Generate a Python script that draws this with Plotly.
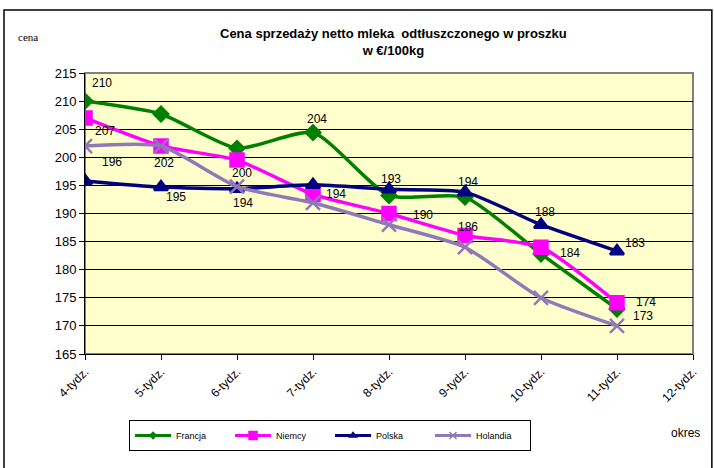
import plotly.graph_objects as go

categories = ["4-tydz.", "5-tydz.", "6-tydz.", "7-tydz.", "8-tydz.", "9-tydz.", "10-tydz.", "11-tydz.", "12-tydz."]

francja = [210, 207.7, 201.6, 204.4, 193.2, 192.9, 182.8, 173.0]
niemcy = [207, 202, 199.5, 193.4, 190, 186.1, 184, 174.1]
polska = [195.8, 194.7, 194.4, 195.1, 194.3, 193.8, 188, 183.3]
holandia = [202, 202, 194.8, 191.9, 188, 184, 175, 170]

series_names = ["Francja", "Niemcy", "Polska", "Holandia"]
series_values = [francja, niemcy, polska, holandia]
series_colors = ["#008000", "#FF00FF", "#000080", "#9178B8"]
series_symbols = ["diamond", "square", "triangle-up", "x-thin"]
series_sizes = [11, 13, 12, 14]
legend_sizes = [5, 8, 6, 7]

# data labels: (series index, point index, text, xshift, yshift)
labels = [
    (0, 0, "210", 17, 18),
    (1, 0, "207", 20, -13),
    (2, 0, "196", 27, 19),
    (3, 1, "202", 3, -17),
    (2, 1, "195", 15, -10),
    (1, 2, "200", 5, -13),
    (2, 2, "194", 6, -14),
    (0, 3, "204", 4, 14),
    (1, 3, "194", 23, 0),
    (0, 4, "193", 2, 17),
    (1, 4, "190", 34, -1),
    (2, 5, "194", 3, 10),
    (1, 5, "186", 3, 8),
    (2, 6, "188", 4, 13),
    (1, 6, "184", 29, -6),
    (2, 7, "183", 18, 8),
    (1, 7, "174", 29, 1),
    (0, 7, "173", 26, -7),
]

fig = go.Figure()
for name, vals, col, sym, sz in zip(series_names, series_values, series_colors, series_symbols, series_sizes):
    fig.add_trace(go.Scatter(
        x=categories[:len(vals)], y=vals, name=name, mode="lines+markers", showlegend=False,
        line=dict(color=col, width=3.5, shape="spline", smoothing=0.6),
        marker=dict(symbol=sym, size=sz, color=col, line=dict(color=col, width=2.5)),
    ))
# legend entries with small symbols, as in the original
for name, col, sym, lsz in zip(series_names, series_colors, series_symbols, legend_sizes):
    fig.add_trace(go.Scatter(
        x=[None], y=[None], name=name, mode="lines+markers", showlegend=True,
        line=dict(color=col, width=3),
        marker=dict(symbol=sym, size=lsz, color=col, line=dict(color=col, width=1.5)),
    ))

for si, pi, txt, xs, ys in labels:
    fig.add_annotation(
        x=categories[pi], y=series_values[si][pi], text=txt, showarrow=False,
        xshift=xs, yshift=ys, font=dict(family="Liberation Sans, Arial", size=12, color="#000000"),
    )

fig.add_annotation(
    text="<b>Cena sprzedaży netto mleka  odtłuszczonego w proszku<br>w €/100kg</b>",
    xref="paper", yref="paper", x=0.507, y=1.11, xanchor="center", yanchor="middle",
    showarrow=False, font=dict(family="Liberation Sans, Arial", size=13, color="#000000"),
)
fig.add_annotation(
    text="cena", xref="paper", yref="paper", x=-0.093, y=1.128, xanchor="center", yanchor="middle",
    showarrow=False, font=dict(family="Liberation Serif, Times New Roman", size=11, color="#000000"),
)
fig.add_annotation(
    text="okres", xref="paper", yref="paper", x=0.988, y=-0.281, xanchor="center", yanchor="middle",
    showarrow=False, font=dict(family="Liberation Sans, Arial", size=12, color="#000000"),
)

# outer chart border
fig.add_shape(type="rect", xref="paper", yref="paper", x0=-0.1332, x1=1.031, y0=-0.41, y1=1.224,
              line=dict(color="#000000", width=1.5), fillcolor="rgba(0,0,0,0)", layer="below")

fig.update_layout(
    width=714, height=468,
    margin=dict(l=85, r=21, t=73, b=114),
    paper_bgcolor="#FFFFFF", plot_bgcolor="#FFFFCC",
    font=dict(family="Liberation Sans, Arial", size=12, color="#000000"),
    showlegend=True,
    legend=dict(orientation="h", x=0.403, y=-0.235, xanchor="center", yanchor="top",
                bordercolor="#000000", borderwidth=1, bgcolor="#FFFFFF",
                font=dict(size=9), itemwidth=36, entrywidth=49, entrywidthmode="pixels",
                tracegroupgap=0),
)
fig.update_xaxes(
    type="category", categoryorder="array", categoryarray=categories,
    range=[0, 8], showgrid=False, showline=True, linecolor="#000000", linewidth=1,
    mirror=False, ticks="outside", ticklen=5, tickcolor="#000000", tickangle=-45,
    tickfont=dict(size=12), zeroline=False,
)
fig.update_yaxes(
    range=[165, 215], dtick=5, showgrid=True, gridcolor="#000000", gridwidth=1,
    showline=True, linecolor="#000000", linewidth=1, ticks="outside", ticklen=5,
    tickcolor="#000000", tickfont=dict(size=13), zeroline=False,
)
# gray plot border (top & right)
fig.add_shape(type="rect", xref="paper", yref="paper", x0=0, x1=1, y0=0, y1=1,
              line=dict(color="#808080", width=2), fillcolor="rgba(0,0,0,0)", layer="below")

fig.write_html("out.html", config={"displayModeBar": False},
               post_script="document.body.style.margin='0';document.body.style.padding='0';")
